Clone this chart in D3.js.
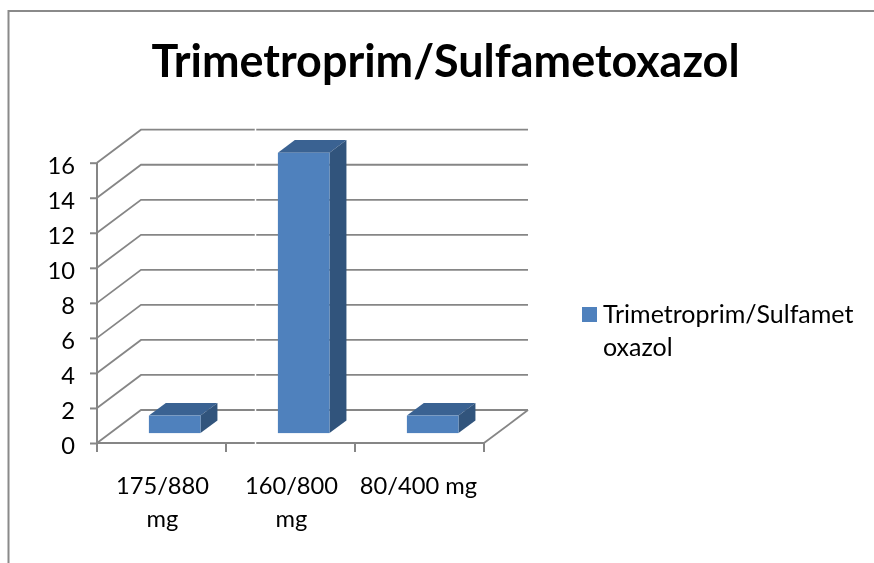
<!DOCTYPE html>
<html><head><meta charset="utf-8">
<script src="https://cdn.jsdelivr.net/npm/d3@7"></script>
<style>html,body{margin:0;padding:0;background:#fff}svg{display:block;filter:blur(0.35px)}text{font-family:Lato,"Open Sans",sans-serif;fill:#000}</style>
</head><body><div id="c"></div>
<script>
const titleText = "Trimetroprim/Sulfametoxazol";
const categories = ["175/880 mg", "160/800 mg", "80/400 mg"];
const categoryLines = [["175/880", "mg"], ["160/800", "mg"], ["80/400 mg"]];
const values = [1, 16, 1];
const yTicks = [0, 2, 4, 6, 8, 10, 12, 14, 16];
const legendLines = ["Trimetroprim/Sulfamet", "oxazol"];

const W = 874, H = 563, grey = "#868686";
const svg = d3.select("#c").append("svg").attr("width", W).attr("height", H);

const x = d3.scaleBand().domain(categories).range([97, 484]).paddingInner(0.6).paddingOuter(0.3);
const y = d3.scaleLinear().domain([0, 16]).range([443, 162.7]);
const depthX = d3.scaleLinear().domain([0, 1]).range([0, 44]);
const depthY = d3.scaleLinear().domain([0, 1]).range([0, -33]);
const step = (484 - 97) / categories.length;
const line = d3.line();

// chart frame
svg.append("path").attr("d", line([[8.5, H], [8.5, 11], [W, 11]]))
  .attr("fill", "none").attr("stroke", "#8a8a8a").attr("stroke-width", 2);

svg.append("text").attr("x", 445.5).attr("y", 77).attr("text-anchor", "middle")
  .attr("font-size", 44.9).attr("font-weight", 700).text(titleText);

// walls and floor
const wall = svg.append("g").attr("fill", "none").attr("stroke", grey).attr("stroke-width", 1.8);
yTicks.forEach(t => {
  wall.append("path").attr("d", line([
    [x.range()[0], y(t)],
    [x.range()[0] + depthX(1), y(t) + depthY(1)],
    [x.range()[1] + depthX(1), y(t) + depthY(1)]
  ]));
});
wall.append("path").attr("d", line([
  [x.range()[1], y(0)],
  [x.range()[1] + depthX(1), y(0) + depthY(1)]
]));

// axes
const yAxis = d3.axisLeft(y).tickValues(yTicks).tickSize(7).tickPadding(15);
const gy = svg.append("g").attr("transform", "translate(97,0)").call(yAxis);
gy.selectAll("line,path").attr("stroke", grey).attr("stroke-width", 2);
gy.select(".domain").attr("d", line([[0, y(16)], [0, y(0)]]));
gy.selectAll("text").attr("font-size", 23.7).attr("font-family", "Lato").attr("fill", "#000")
  .attr("dy", "0.46em");

const xLine = svg.append("g").attr("stroke", grey).attr("stroke-width", 2);
xLine.append("line").attr("x1", 97).attr("x2", 484).attr("y1", y(0)).attr("y2", y(0));
d3.range(categories.length + 1).forEach(i => {
  xLine.append("line").attr("x1", 97 + i * step).attr("x2", 97 + i * step)
    .attr("y1", y(0)).attr("y2", y(0) + 9);
});

// seam in the reference picture
svg.append("line").attr("x1", 255.5).attr("x2", 255.5).attr("y1", 120).attr("y2", 450)
  .attr("stroke", "#fff").attr("stroke-width", 1.5);

// bars
const bf = 0.3, bd = 0.385;
const bars = svg.append("g").selectAll("g").data(categories).join("g");
bars.each(function (c, i) {
  const g = d3.select(this), v = values[i];
  const x0 = x(c) + depthX(bf), x1 = x0 + x.bandwidth();
  const yb = y(0) + depthY(bf), yt = y(v) + depthY(bf);
  const dx = depthX(bd), dy = depthY(bd);
  g.append("path").attr("fill", "#3a6292").attr("d", line([[x0, yt], [x1, yt], [x1 + dx, yt + dy], [x0 + dx, yt + dy]]) + "Z");
  g.append("path").attr("fill", "#31547c").attr("d", line([[x1, yt], [x1 + dx, yt + dy], [x1 + dx, yb + dy], [x1, yb]]) + "Z");
  g.append("rect").attr("x", x0).attr("y", yt).attr("width", x.bandwidth()).attr("height", yb - yt).attr("fill", "#4f81bd");
});

// category labels
categories.forEach((c, i) => {
  categoryLines[i].forEach((t, k) => {
    svg.append("text").attr("x", 97 + (i + 0.5) * step + (i === 2 ? -1 : 1)).attr("y", 494 + k * 33)
      .attr("text-anchor", "middle").attr("font-size", 23.7).text(t);
  });
});

// legend
svg.append("rect").attr("x", 582).attr("y", 307).attr("width", 15).attr("height", 15).attr("fill", "#4f81bd");
legendLines.forEach((t, k) => {
  svg.append("text").attr("x", 603).attr("y", 323 + k * 33).attr("font-size", 25).text(t);
});
</script></body></html>
